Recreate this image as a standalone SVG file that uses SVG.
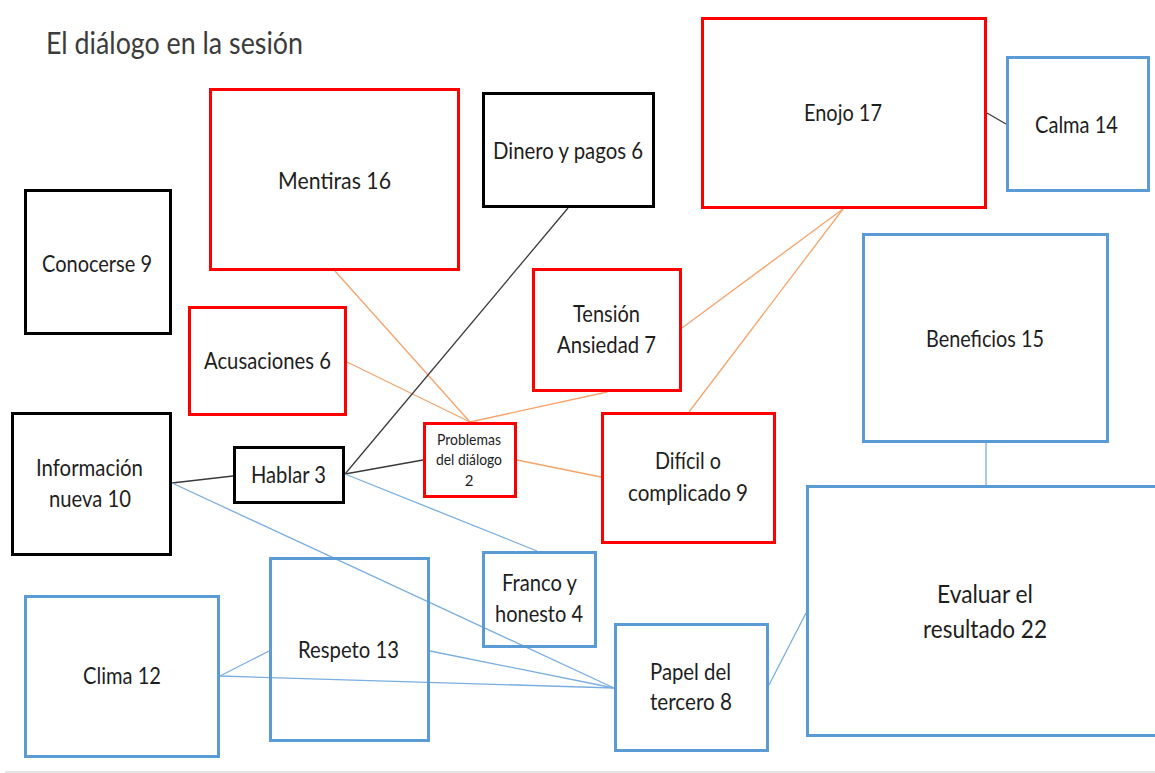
<svg xmlns="http://www.w3.org/2000/svg" width="1155" height="773" viewBox="0 0 1155 773">
  <style>
    .box { fill: none; stroke-width: 3; }
    .red { stroke: #ff0000; }
    .blk { stroke: #000000; }
    .blu { stroke: #5b9bd5; }
    .lbl { font-family: Lato, "Liberation Sans", sans-serif; font-size: 23px; fill: #1e1e1e; text-anchor: middle; }
    .sm { font-size: 15px; }
    .lg { font-size: 25px; }
    .title { font-family: Lato, "Liberation Sans", sans-serif; font-size: 30px; fill: #3c3c3c; }
    .c-or { stroke: #f4a46c; stroke-width: 1.3; fill: none; }
    .c-bk { stroke: #3a3a3a; stroke-width: 1.3; fill: none; }
    .c-bl { stroke: #7aaee0; stroke-width: 1.3; fill: none; }
  </style>
  <rect width="1155" height="773" fill="#ffffff"/>

  <text class="title" x="46" y="54" textLength="257" lengthAdjust="spacingAndGlyphs">El diálogo en la sesión</text>

  <!-- links between themes -->
  <g id="connectors">
    <line class="c-or" x1="335" y1="271" x2="470" y2="422"/>
    <line class="c-or" x1="347" y1="362" x2="470" y2="422"/>
    <line class="c-or" x1="607" y1="392" x2="470" y2="422"/>
    <line class="c-or" x1="843" y1="209" x2="682" y2="328"/>
    <line class="c-or" x1="843" y1="209" x2="689" y2="412"/>
    <line class="c-or" x1="517" y1="460" x2="601" y2="477"/>

    <line class="c-bk" x1="172" y1="483" x2="233" y2="476"/>
    <line class="c-bk" x1="345" y1="474" x2="568" y2="208"/>
    <line class="c-bk" x1="345" y1="474" x2="423" y2="460"/>
    <line class="c-bk" x1="987" y1="113" x2="1006" y2="124"/>

    <line class="c-bl" x1="345" y1="474" x2="537" y2="551"/>
    <line class="c-bl" x1="172" y1="483" x2="614" y2="688"/>
    <line class="c-bl" x1="430" y1="651" x2="614" y2="688"/>
    <line class="c-bl" x1="220" y1="676" x2="269" y2="651"/>
    <line class="c-bl" x1="220" y1="676" x2="614" y2="688"/>
    <line class="c-bl" x1="769" y1="685" x2="806" y2="613"/>
    <line class="c-bl" x1="986" y1="443" x2="986" y2="485"/>
  </g>

  <g id="mentiras">
    <rect class="box red" x="210.5" y="89.5" width="248" height="180"/>
    <text class="lbl" x="334.5" y="189" textLength="113" lengthAdjust="spacingAndGlyphs">Mentiras 16</text>
  </g>
  <g id="conocerse">
    <rect class="box blk" x="25.5" y="190.5" width="145" height="143"/>
    <text class="lbl" x="97" y="272" textLength="110" lengthAdjust="spacingAndGlyphs">Conocerse 9</text>
  </g>
  <g id="dinero">
    <rect class="box blk" x="483.5" y="93.5" width="170" height="113"/>
    <text class="lbl" x="568" y="159" textLength="150" lengthAdjust="spacingAndGlyphs">Dinero y pagos 6</text>
  </g>
  <g id="enojo">
    <rect class="box red" x="702.5" y="18.5" width="283" height="189"/>
    <text class="lbl" x="843" y="121" textLength="78" lengthAdjust="spacingAndGlyphs">Enojo 17</text>
  </g>
  <g id="calma">
    <rect class="box blu" x="1007.5" y="57.5" width="141" height="133"/>
    <text class="lbl" x="1076.5" y="133" textLength="83" lengthAdjust="spacingAndGlyphs">Calma 14</text>
  </g>
  <g id="acusaciones">
    <rect class="box red" x="189.5" y="307.5" width="156" height="107"/>
    <text class="lbl" x="267.5" y="369" textLength="127" lengthAdjust="spacingAndGlyphs">Acusaciones 6</text>
  </g>
  <g id="tension">
    <rect class="box red" x="533.5" y="269.5" width="147" height="121"/>
    <text class="lbl" x="606.5" y="322" textLength="67" lengthAdjust="spacingAndGlyphs">Tensión</text>
    <text class="lbl" x="606.5" y="353" textLength="99" lengthAdjust="spacingAndGlyphs">Ansiedad 7</text>
  </g>
  <g id="beneficios">
    <rect class="box blu" x="863.5" y="234.5" width="244" height="207"/>
    <text class="lbl" x="985" y="347" textLength="118" lengthAdjust="spacingAndGlyphs">Beneficios 15</text>
  </g>
  <g id="informacion">
    <rect class="box blk" x="12.5" y="413.5" width="158" height="141"/>
    <text class="lbl" x="89.5" y="476" textLength="107" lengthAdjust="spacingAndGlyphs">Información</text>
    <text class="lbl" x="90" y="507" textLength="82" lengthAdjust="spacingAndGlyphs">nueva 10</text>
  </g>
  <g id="hablar">
    <rect class="box blk" x="234.5" y="447.5" width="109" height="55"/>
    <text class="lbl" x="288.5" y="483" textLength="75" lengthAdjust="spacingAndGlyphs">Hablar 3</text>
  </g>
  <g id="problemas">
    <rect class="box red" x="424.5" y="423.5" width="91" height="73"/>
    <text class="lbl sm" x="469" y="445" textLength="64" lengthAdjust="spacingAndGlyphs">Problemas</text>
    <text class="lbl sm" x="469" y="465" textLength="66" lengthAdjust="spacingAndGlyphs">del diálogo</text>
    <text class="lbl sm" x="469" y="486">2</text>
  </g>
  <g id="dificil">
    <rect class="box red" x="602.5" y="413.5" width="172" height="129"/>
    <text class="lbl" x="688" y="469" textLength="66" lengthAdjust="spacingAndGlyphs">Difícil o</text>
    <text class="lbl" x="688" y="501" textLength="120" lengthAdjust="spacingAndGlyphs">complicado 9</text>
  </g>
  <g id="franco">
    <rect class="box blu" x="483.5" y="552.5" width="112" height="94"/>
    <text class="lbl" x="539.5" y="591" textLength="75" lengthAdjust="spacingAndGlyphs">Franco y</text>
    <text class="lbl" x="539" y="622" textLength="88" lengthAdjust="spacingAndGlyphs">honesto 4</text>
  </g>
  <g id="evaluar">
    <rect class="box blu" x="807.5" y="486.5" width="400" height="249"/>
    <text class="lbl lg" x="985" y="603" textLength="96" lengthAdjust="spacingAndGlyphs">Evaluar el</text>
    <text class="lbl lg" x="985" y="638" textLength="124" lengthAdjust="spacingAndGlyphs">resultado 22</text>
  </g>
  <g id="clima">
    <rect class="box blu" x="25.5" y="596.5" width="193" height="160"/>
    <text class="lbl" x="122" y="684" textLength="78" lengthAdjust="spacingAndGlyphs">Clima 12</text>
  </g>
  <g id="respeto">
    <rect class="box blu" x="270.5" y="558.5" width="158" height="182"/>
    <text class="lbl" x="348.5" y="658" textLength="101" lengthAdjust="spacingAndGlyphs">Respeto 13</text>
  </g>
  <g id="papel">
    <rect class="box blu" x="615.5" y="624.5" width="152" height="126"/>
    <text class="lbl" x="690.5" y="680" textLength="81" lengthAdjust="spacingAndGlyphs">Papel del</text>
    <text class="lbl" x="691" y="710" textLength="82" lengthAdjust="spacingAndGlyphs">tercero 8</text>
  </g>

  <line x1="5" y1="772" x2="1155" y2="772" stroke="#e4e4e4" stroke-width="2"/>
</svg>
